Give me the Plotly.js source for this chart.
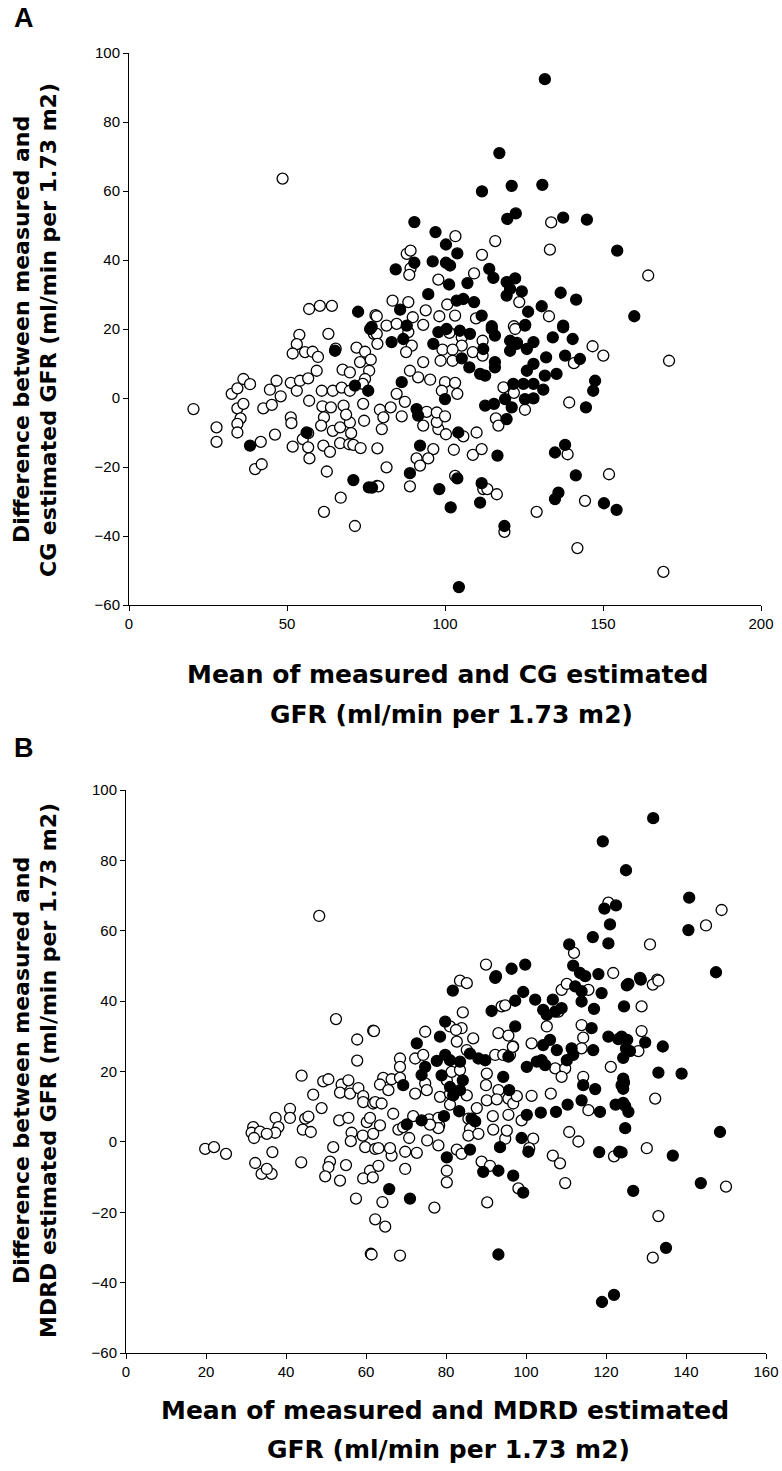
<!DOCTYPE html>
<html>
<head>
<meta charset="utf-8">
<script src="https://cdn.plot.ly/plotly-3.0.1.min.js"></script>
<style>html,body{margin:0;padding:0;background:#fff;}#chart{width:782px;height:1471px;}</style>
</head>
<body>
<div id="chart"></div>
<script>
// ---------- Panel A (CG) ----------
const aOpenX = [48.6,57,60.4,64.2,78,133.6,103.3,115.9,111.7,133.2,87.9,89.1,89.1,88.7,97.9,109.2,123.5,132.9,121.8,83.4,88.4,93.9,78.4,89.8,100.7,103.2,98.2,109.8,164.3,
20.4,27.7,27.7,41.7,39.9,42,32.5,34.3,36.2,38.3,34.3,36.2,35.3,34.3,34.3,42.5,45.2,44.6,46.7,48,46.2,51.2,53.1,54.1,56.7,59.4,51.2,51.4,57,51.8,55,56.7,56.7,57.1,53.9,53.1,51.8,55.7,58.1,59.8,63.1,65.4,72,74.7,67.6,69.9,61,64.5,67.3,69.9,61.2,63.9,61.7,60.8,64.5,66.8,69.9,70.3,66.8,69.7,71,73.3,61.5,63.6,62.6,67,61.7,71.5,78.5,77.5,73.1,76.5,76,74.7,74,74.1,74.4,67.9,68.7,
78.4,81.5,84.7,88.4,93.1,78.6,89.5,87.7,101.4,105.3,105.3,108.8,111.9,111.9,99.2,102.4,102.4,98.6,122.2,122.8,146.7,150.1,140.8,139.3,118.5,121.8,125.3,116.1,116.9,105.8,110,93.1,97.9,100.3,97.4,91.5,95.3,100,103.2,103.9,99,88.9,93.1,84.7,87.3,82.8,79.4,94.2,97.4,100,80.5,86.3,80,78.6,81.5,96.3,94.7,91,92.1,88.9,78.9,102.8,103.2,108.8,111.6,112.1,113.4,116.4,118.8,129,138.8,144.3,141.9,151.9,170.9,169.1];
const aOpenY = [63.6,25.8,26.7,26.7,24,50.9,46.9,45.5,41.5,43,41.8,42.7,37.6,35.7,34.3,36.1,27.8,23.7,20.8,28.2,27.8,25.4,23.7,23.4,27.1,23.9,23.7,23.1,35.5,
-3.2,-8.5,-12.7,-12.7,-20.6,-19.2,1.2,2.8,5.5,4,-3,-1.7,-5.9,-7.5,-10,-3,-2,2.4,5,0.5,-10.6,4.4,2.1,5,5.7,7.9,-5.6,-7.3,-0.8,-14.1,-11.9,-10.2,-14.3,-17.5,18.3,15.6,12.9,13.3,13.4,11.9,18.6,14.3,14.6,13.4,8.2,7.4,2.1,2.1,3,2.1,-2.4,-2.7,-5.6,-8,-9.5,-8.5,-7.1,-10.2,-13.1,-13.4,-13.6,-14.5,-13.8,-15.6,-21.3,-28.9,-33,-37.1,-25.5,18.6,10.4,11.1,7.9,5.5,4.1,-1.7,-6.6,-2.2,-4.8,
18.6,21,21.5,19.1,21.2,15.7,15.2,13.3,18.9,17.6,15.2,13.3,16.6,12.3,14,14,10.8,10.8,20,16,15,12.3,10.1,-1.3,3.1,1.5,-3.4,-5.9,-8,-11.1,-10,-8,-9,-10.5,-7,6,5.3,4.6,4.4,1.2,2.1,7.9,10.4,1.2,-1.1,-2.7,-3.4,-4,-4.2,-5.3,-5.6,-5.3,-9,-14.6,-20.1,-14.8,-17.5,-17.5,-19.6,-25.6,-25.6,-15,-22.6,-16.5,-14.8,-26.4,-26.4,-27.9,-38.8,-33,-16.3,-29.8,-43.5,-22.1,10.8,-50.4];
const aFilledX = [131.6,117.2,111.7,121.1,130.8,119.7,122.4,137.4,144.9,90.3,97,100.3,103.9,154.5,90.3,84.4,96.1,100.3,101.6,101.3,107.1,114,115.3,119.5,122.2,120.6,124.3,119.5,126.3,130.6,136.6,141.5,137.4,125.4,114.8,85.8,94.7,103.7,105.8,109.2,111.6,87.9,159.9,72.5,76.8,
38.3,56.2,65.2,71,75.9,76.3,75.7,71.5,
83.1,86.8,96.3,97.9,100.5,104.7,107.9,112.1,114.8,115.8,105.3,107.7,111.1,112.7,115.8,115.8,125.3,120.6,122.7,125.9,128,120.6,137.4,134.1,140.4,132,138,142.7,128,125.9,131.6,135.3,147.5,146.9,144.6,121.6,124.8,128,131.1,128,125.3,112.7,115.5,119,121.1,119.5,104.2,100,86.3,91,91.5,92.1,88.9,76.9,98.2,101.8,103.9,116.6,111.6,111.1,118.8,104.4,134.8,138,141.4,134.8,135.9,150.3,154.3];
const aFilledY = [92.4,71,59.9,61.5,61.8,51.9,53.5,52.3,51.7,51,48.1,44.5,41.9,42.7,39.2,37.3,39.6,39.2,38.4,32.9,33.3,37.4,34.8,33.6,34.7,31.6,30.9,29.7,25,26.6,30.5,28.5,21,21.2,20.8,25.6,30.1,28.2,28.7,27.8,23.9,21,23.7,25,20.6,
-13.8,-10,13.7,-23.8,-25.9,20,2.1,3.6,
16.2,17.1,15.7,19.1,20,19.5,18.6,14.2,20,18.1,11.5,8.9,7,6.5,10.4,8.9,21,16.6,15.7,14.2,16.2,13.7,20.5,17.6,17.1,11.8,12.3,11.3,9.9,7.9,6.5,7,5,2.1,-2.7,4.1,4.1,4.1,2.4,-0.1,-0.3,-2.2,-1.7,-0.3,-2.7,-6.1,-10,-0.3,4.6,-3.2,-5.1,-13.8,-21.8,-26,-26.4,-31.7,-23.3,-16.7,-24.7,-30.3,-37.1,-54.8,-15.8,-13.6,-22.4,-29.3,-27.4,-30.5,-32.4];

// ---------- Panel B (MDRD) ----------
const bOpenX = [48.3,120.6,112,90,83.5,85.2,121.8,148.9,145,131,132.8,131.7,
52.5,61.8,57.8,57.8,43.9,49.3,50.6,46.8,48.9,53.9,55.6,53.5,56,58.1,59.3,59.3,61.8,41,41,37.4,38.1,37.3,44.8,45.6,44.2,46.2,31.8,31.4,33.5,35.2,32,19.8,22,25,36.6,32.3,33.9,36.4,35.2,43.8,51.8,53.3,55.6,56.4,56.2,59.2,60.2,61.8,59.8,62.3,51,50.6,49.8,55,53.5,61,59.3,57.5,62.3,61.2,
84.2,93.9,94.8,108.1,108.9,110.2,115.6,105.2,93.1,95.6,96.8,96,101.4,107.3,109.8,108.9,113.9,114.3,113.9,121.2,114.3,115.6,106.2,101.4,98.9,101.8,94.8,100.8,110.8,113.1,122,106.7,108.5,109.8,98.1,88.9,91,90.3,68.5,61.4,64.8,64.1,77.1,80.2,80.2,82.7,83.9,69.8,69.8,66.4,72.7,75.3,78.1,63.1,66,63.1,61.7,70.8,68.1,69.3,63.5,61,66.8,71.8,75.8,78.3,78.1,85.6,86,85.6,88.1,91.8,95.2,95.6,91.7,87.7,81,78.5,81,85.2,90.2,93.1,92.7,95.6,96.8,97.7,90.2,90,80.2,81.4,83.5,85.2,86.8,82.7,83.9,81,92.3,94.3,96.7,74.8,72.3,74.3,68.5,68.5,82.5,64.3,66.4,63.5,65.6,68.5,72.3,74.8,75.2,62,62.3,63.9,78.1,76,
133.1,128.9,128.9,128.1,132.3,130.2,150,133.1,131.7];
const bOpenY = [64.2,68,53.7,50.4,45.8,45.1,48,65.9,61.5,56.1,46.1,44.7,
34.9,31.6,29.1,23.1,18.8,17.2,17.8,13.4,9.6,16.3,17.5,14,13.7,15.3,13,11.3,10.9,9.4,6.8,6.8,4.2,2.6,6.6,7.2,3.5,2.8,4.2,2.6,2.9,2.3,1.1,-2,-1.5,-3.4,-2.9,-6,-9.1,-9.1,-7.7,-5.8,-1.5,6.1,6.8,2.6,0.2,1.8,5.6,2.3,-1.5,-2,-5.6,-7.2,-9.8,-6.6,-11,-8.2,-10.4,-16.1,-22,-31.8,
36.8,38.5,38.8,37,43.2,44.9,43.2,32.8,30.9,30.2,27.1,24.7,28,20.9,20.9,18.5,33.2,29.6,26.6,21.3,18.5,9,13.7,13.1,6.1,0.9,0.9,-1.8,2.8,0.1,-4.1,-3.9,-6.1,-11.7,-13.2,-5.6,-6.8,-17.2,-32.3,-32,-24.1,-17.1,-18.7,-8.2,-11.5,-2.2,-3.4,-7.7,-2.8,-3.9,-3.1,0.4,-1,-1.8,-1.8,-6.8,-10.1,1.1,3.5,4.2,4.7,6.8,8,7.3,6.4,4.7,6.8,6.6,3.7,1.8,2.3,3.5,3.2,7.7,7.3,9.6,10.6,12.8,13.7,13.2,11.8,14.7,12.1,12.3,10.9,13,19.4,16.1,17.5,19.9,20.4,26.1,29.4,28.5,32.3,32.8,24.7,24.7,27,31.3,23.7,24.7,23.7,21.3,31.8,18.2,17.8,16.3,14.7,18.2,13.7,16.6,14.7,31.5,11.3,10.9,3.9,4.9,
45.8,38.5,31.5,25.8,12.3,-1.8,-12.7,-21.1,-32.9];
const bFilledX = [119.2,125,119.6,122.5,121,116.7,120.6,110.8,92.5,96.4,99.8,111.8,113.5,114.8,118.1,131.8,140.8,140.6,147.5,128.5,125.6,
81.7,92.3,91.4,97.3,99.3,102.3,104.3,106.7,107.3,105.2,108.9,112.3,113.9,117,118.9,113.9,125.2,124.5,97.3,95.6,94.3,95.8,104.3,106,107.7,100.2,102.7,103.9,104.8,110.2,111.8,111.4,116.4,116.8,120.6,123.1,125,114.3,117.3,123.9,124.3,113.9,118.5,122.4,124.8,124.8,103.7,107.5,110.4,100.2,98.9,100.6,93.5,118.3,123.3,96.8,99.3,89.3,93.1,93.1,65.8,71,80.2,86,73.9,70.2,79.5,83.3,86.4,87.3,83.5,81.8,78.9,84.2,81,88.1,89.8,86,83.5,81,77.7,74.8,73.9,79.8,72.7,78.5,79.8,69.3,
128.7,123.9,125.3,129.8,134.2,124.3,126,133.1,138.9,124.5,124.3,124.3,125.6,123.9,148.5,136.7,126.8,143.7,135,119,122];
const bFilledY = [85.4,77.2,66.3,67.2,61.8,58.2,56.4,56.1,47.1,49.2,50.4,50.1,48,47.1,47.7,92,69.4,60.2,48.2,46.6,44.9,
43,46.6,37.2,40.1,42.6,40.4,37.5,40.4,37,36.1,38,44.2,39.9,37.8,42.3,42.8,44.5,38.5,32.8,24.2,18.5,14.7,27.5,29,26.1,21.3,22.8,23.2,21.8,23.2,24.7,26.6,32.3,26.1,29.9,29.2,26.6,16.1,15,16.1,18,11.8,8.5,10.6,10.2,3.9,8.3,8.5,10.6,7.7,1.1,-2.8,-1.5,-2.9,-2.8,-9.6,-14.4,-8.5,-8.2,-32,-13.4,-16.1,-4.4,-2.2,6.1,5,7.3,8.7,6.6,5.8,14.7,13.2,18.9,17.5,15.6,23.7,23.2,25.1,22.8,23.2,23,21.3,19,24.7,28,29.9,34.2,16.1,
46.1,29.9,29,28.3,27.1,23.9,25.8,19.7,19.4,16.9,15.1,11.1,8.5,-3,2.8,-3.9,-13.9,-11.7,-30.1,-45.5,-43.5];

const aXTicks = [0,50,100,150,200];
const bXTicks = [0,20,40,60,80,100,120,140,160];
const yTicks = [-60,-40,-20,0,20,40,60,80,100];

// ---------- layout helpers (pixel -> paper) ----------
const W = 782, H = 1471;
const px = v => v / W;
const py = v => 1 - v / H;

const openMarker = {symbol:'circle', size:11, color:'#ffffff', line:{color:'#000000', width:1.3}};
const fillMarker = {symbol:'circle', size:11, color:'#000000', line:{color:'#000000', width:1.3}};

const traces = [
  {x:aOpenX, y:aOpenY, type:'scatter', mode:'markers', marker:openMarker, xaxis:'x', yaxis:'y', hoverinfo:'x+y'},
  {x:aFilledX, y:aFilledY, type:'scatter', mode:'markers', marker:fillMarker, xaxis:'x', yaxis:'y', hoverinfo:'x+y'},
  {x:bOpenX, y:bOpenY, type:'scatter', mode:'markers', marker:openMarker, xaxis:'x2', yaxis:'y2', hoverinfo:'x+y'},
  {x:bFilledX, y:bFilledY, type:'scatter', mode:'markers', marker:fillMarker, xaxis:'x2', yaxis:'y2', hoverinfo:'x+y'}
];

const tickFont = {family:'Liberation Sans, Arial, sans-serif', size:15, color:'#000'};
const axBase = {showline:true, linecolor:'#000', linewidth:1, ticks:'outside', ticklen:5, tickwidth:1, tickcolor:'#000',
  showgrid:false, zeroline:false, tickfont:tickFont, fixedrange:true};

const titleFont = {family:'DejaVu Sans, sans-serif', size:25, color:'#000'};
const ytFont = {family:'DejaVu Sans, sans-serif', size:22, color:'#000'};
const labFont = {family:'Liberation Sans, Arial, sans-serif', size:27, color:'#000'};

function ann(text, xp, yp, font, angle) {
  return {text:'<b>'+text+'</b>', xref:'paper', yref:'paper', x:px(xp), y:py(yp), xanchor:'center', yanchor:'middle',
    showarrow:false, font:font, textangle:angle||0};
}

const layout = {
  width:W, height:H, margin:{l:0,r:0,t:0,b:0}, paper_bgcolor:'#fff', plot_bgcolor:'#fff', showlegend:false,
  xaxis: Object.assign({}, axBase, {domain:[px(129), px(761)], range:[0,200], tickvals:aXTicks, anchor:'y'}),
  yaxis: Object.assign({}, axBase, {domain:[py(605), py(53)], range:[-60,100], tickvals:yTicks, anchor:'x'}),
  xaxis2: Object.assign({}, axBase, {domain:[px(126), px(766)], range:[0,160], tickvals:bXTicks, anchor:'y2'}),
  yaxis2: Object.assign({}, axBase, {domain:[py(1353), py(790)], range:[-60,100], tickvals:yTicks, anchor:'x2'}),
  annotations: [
    ann('A', 24, 18, labFont),
    ann('B', 24, 748, labFont),
    ann('Mean of measured and CG estimated', 447, 674, titleFont),
    ann('GFR (ml/min per 1.73 m2)', 452, 714, titleFont),
    ann('Mean of measured and MDRD estimated', 445, 1410, titleFont),
    ann('GFR (ml/min per 1.73 m2)', 448, 1449, titleFont),
    ann('Difference between measured and', 21, 330, ytFont, -90),
    ann('CG estimated GFR (ml/min per 1.73 m2)', 48, 330, ytFont, -90),
    ann('Difference between measured and', 21, 1071, ytFont, -90),
    ann('MDRD estimated GFR (ml/min per 1.73 m2)', 48, 1071, ytFont, -90)
  ]
};

Plotly.newPlot('chart', traces, layout, {displayModeBar:false, staticPlot:true});
</script>
</body>
</html>
